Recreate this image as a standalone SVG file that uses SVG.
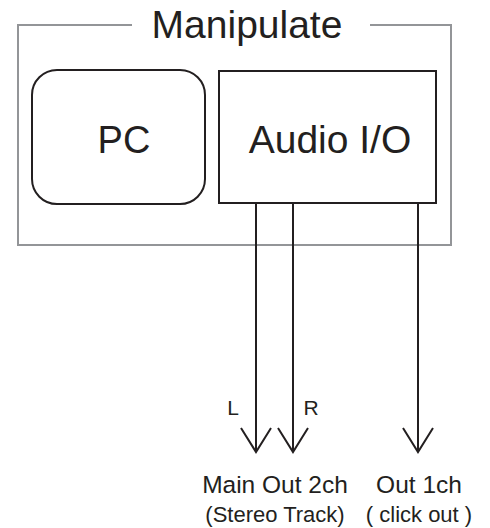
<svg xmlns="http://www.w3.org/2000/svg" width="490" height="528" viewBox="0 0 490 528">
<style>
text{font-family:"Liberation Sans",Arial,sans-serif;fill:#231f20;text-anchor:middle}
.frame{fill:none;stroke:#939598;stroke-width:2}
.box{fill:none;stroke:#231f20;stroke-width:2}
.wire{fill:none;stroke:#231f20;stroke-width:2}
</style>
<rect width="490" height="528" fill="#fff"/>
<g id="manipulate">
<path class="frame" d="M132 25 H18 V245 H451 V25 H370"/>
<text x="247" y="38" font-size="39">Manipulate</text>
</g>
<g id="pc">
<rect class="box" x="32" y="70" width="173" height="134" rx="25"/>
<text x="124" y="153" font-size="38">PC</text>
</g>
<g id="audio-io">
<rect class="box" x="219" y="71" width="217" height="132"/>
<text x="330" y="153" font-size="39">Audio I/O</text>
</g>
<g id="connectors">
<path class="wire" d="M256 203 V452 M241 428 L256 452 L271 428"/>
<path class="wire" d="M293 203 V452 M278 428 L293 452 L308 428"/>
<path class="wire" d="M418 203 V452 M403 428 L418 452 L433 428"/>
<text x="233" y="415" font-size="21">L</text>
<text x="311" y="415" font-size="21">R</text>
</g>
<g id="outputs">
<text x="275" y="493" font-size="24.5">Main Out 2ch</text>
<text x="275" y="522" font-size="22">(Stereo Track)</text>
<text x="419" y="493" font-size="24.5">Out 1ch</text>
<text x="419" y="522" font-size="22">( click out )</text>
</g>
</svg>
